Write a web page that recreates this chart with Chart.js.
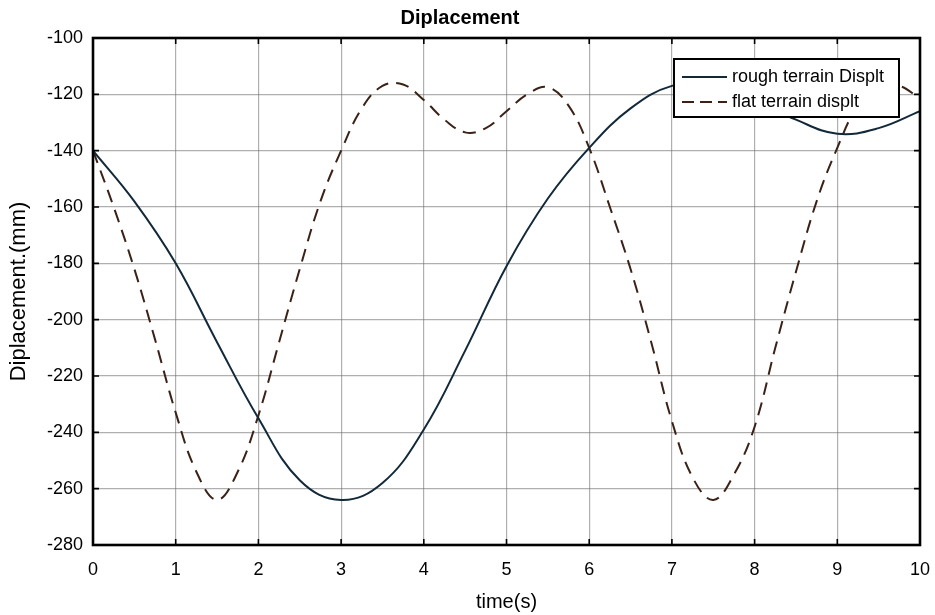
<!DOCTYPE html>
<html>
<head>
<meta charset="utf-8">
<script src="https://cdn.jsdelivr.net/npm/chart.js@4"></script>
<style>
  html, body { margin: 0; padding: 0; background: #fff; }
  #wrap { width: 935px; height: 615px; }
</style>
</head>
<body>
<div id="wrap"><canvas id="chart" width="935" height="615"></canvas></div>
<script>
// time axis samples (s)
const flatTime = [0, 0.25, 0.5, 0.75, 1, 1.25, 1.5, 1.75, 2, 2.25, 2.5, 2.75, 3, 3.25, 3.5, 3.75, 4, 4.25, 4.5, 4.75, 5,
    5.25, 5.5, 5.75, 6, 6.25, 6.5, 6.75, 7, 7.25, 7.5, 7.75, 8, 8.25, 8.5, 8.75, 9, 9.25, 9.5, 9.75, 10];
const flatDispl = [-140, -160, -182, -207, -233, -254, -264, -254, -234, -208, -182, -158, -140, -125, -117, -116.5, -122,
    -129, -133.5, -132, -126, -120, -117.5, -124, -139, -160, -182, -208, -236, -256, -264, -255, -238, -210, -183, -158,
    -139, -124, -117.5, -117, -121.5];

const roughTime = [0, 0.5, 1, 1.5, 2, 2.5, 3, 3.5, 4, 4.5, 5, 5.5, 6, 6.5, 7, 7.5, 8, 8.5, 9, 9.5, 10];
const roughDispl = [-140, -158, -180, -208, -235, -257, -264, -258, -239, -211, -181, -157, -139, -125, -117, -116.5,
    -122, -129, -134, -132, -126];

const xTicks = [0, 10, 1];        // min, max, step
const yTicks = [-280, -100, 20];  // min, max, step

const seriesNames = ['rough terrain Displt', 'flat terrain displt'];
const roughColor = '#12293a';
const flatColor = '#3b2217';
const dashPattern = [13, 8];
const fontFam = '"Liberation Sans", Arial, sans-serif';

const toPoints = (xs, ys) => xs.map((x, i) => ({ x: x, y: ys[i] }));

// box border + inward ticks like matlab
const boxPlugin = {
    id: 'box',
    afterDraw(chart) {
        const { ctx, chartArea: a, scales } = chart;
        ctx.save();
        ctx.strokeStyle = '#000';
        ctx.lineWidth = 1.6;
        ctx.beginPath();
        scales.x.ticks.forEach(t => {
            const px = scales.x.getPixelForValue(t.value);
            ctx.moveTo(px, a.bottom); ctx.lineTo(px, a.bottom - 6);
            ctx.moveTo(px, a.top); ctx.lineTo(px, a.top + 6);
        });
        scales.y.ticks.forEach(t => {
            const py = scales.y.getPixelForValue(t.value);
            ctx.moveTo(a.left, py); ctx.lineTo(a.left + 6, py);
            ctx.moveTo(a.right, py); ctx.lineTo(a.right - 6, py);
        });
        ctx.stroke();
        ctx.lineWidth = 2.6;
        ctx.strokeRect(a.left, a.top, a.right - a.left, a.bottom - a.top);
        ctx.restore();
    }
};

// legend box inside the plot, top right
const legendPlugin = {
    id: 'insideLegend',
    afterDatasetsDraw(chart) {
        const { ctx, chartArea: a } = chart;
        const x0 = a.right - 246, y0 = a.top + 21, w = 225, h = 58;
        ctx.save();
        ctx.fillStyle = '#fff';
        ctx.fillRect(x0, y0, w, h);
        ctx.strokeStyle = '#000';
        ctx.lineWidth = 2;
        ctx.strokeRect(x0, y0, w, h);

        ctx.lineWidth = 2;
        ctx.strokeStyle = roughColor;
        ctx.beginPath(); ctx.moveTo(x0 + 8, y0 + 18); ctx.lineTo(x0 + 53, y0 + 18); ctx.stroke();
        ctx.strokeStyle = flatColor;
        ctx.setLineDash([12, 6]);
        ctx.beginPath(); ctx.moveTo(x0 + 8, y0 + 43); ctx.lineTo(x0 + 53, y0 + 43); ctx.stroke();
        ctx.setLineDash([]);

        ctx.fillStyle = '#000';
        ctx.font = '18px ' + fontFam;
        ctx.textBaseline = 'middle';
        ctx.fillText(seriesNames[0], x0 + 58, y0 + 18);
        ctx.fillText(seriesNames[1], x0 + 58, y0 + 43);
        ctx.restore();
    }
};

new Chart(document.getElementById('chart'), {
    type: 'line',
    data: {
        datasets: [{
            label: seriesNames[0],
            data: toPoints(roughTime, roughDispl),
            borderColor: roughColor,
            borderWidth: 2,
            pointRadius: 0,
            tension: 0.4
        }, {
            label: seriesNames[1],
            data: toPoints(flatTime, flatDispl),
            borderColor: flatColor,
            borderWidth: 2,
            borderDash: dashPattern,
            pointRadius: 0,
            tension: 0.4
        }]
    },
    options: {
        responsive: false,
        animation: false,
        layout: { padding: { left: 0, right: 15, top: 0, bottom: 0 } },
        plugins: {
            legend: { display: false },
            tooltip: { enabled: false },
            title: {
                display: true,
                text: 'Diplacement',
                color: '#000',
                font: { family: fontFam, size: 20, weight: 'bold' },
                padding: { top: 6, bottom: 8 }
            }
        },
        scales: {
            x: {
                type: 'linear',
                min: xTicks[0],
                max: xTicks[1],
                afterFit: s => { s.height = 70; s.paddingLeft = 0; s.paddingRight = 0; },
                ticks: {
                    stepSize: xTicks[2],
                    color: '#000',
                    padding: 14,
                    font: { family: fontFam, size: 18 }
                },
                grid: { color: 'rgba(110,110,110,0.55)', lineWidth: 1.2, drawTicks: false },
                border: { display: false },
                title: {
                    display: true,
                    text: 'time(s)',
                    color: '#000',
                    font: { family: fontFam, size: 20 },
                    padding: { top: 0, bottom: 1 }
                }
            },
            y: {
                min: yTicks[0],
                max: yTicks[1],
                afterFit: s => { s.width = 93; },
                ticks: {
                    stepSize: yTicks[2],
                    color: '#000',
                    padding: 10,
                    font: { family: fontFam, size: 18 }
                },
                grid: { color: 'rgba(110,110,110,0.55)', lineWidth: 1.2, drawTicks: false },
                border: { display: false },
                title: {
                    display: true,
                    text: 'Diplacement.(mm)',
                    color: '#000',
                    font: { family: fontFam, size: 22 },
                    padding: { top: 6, bottom: 0 }
                }
            }
        }
    },
    plugins: [legendPlugin, boxPlugin]
});
</script>
</body>
</html>
